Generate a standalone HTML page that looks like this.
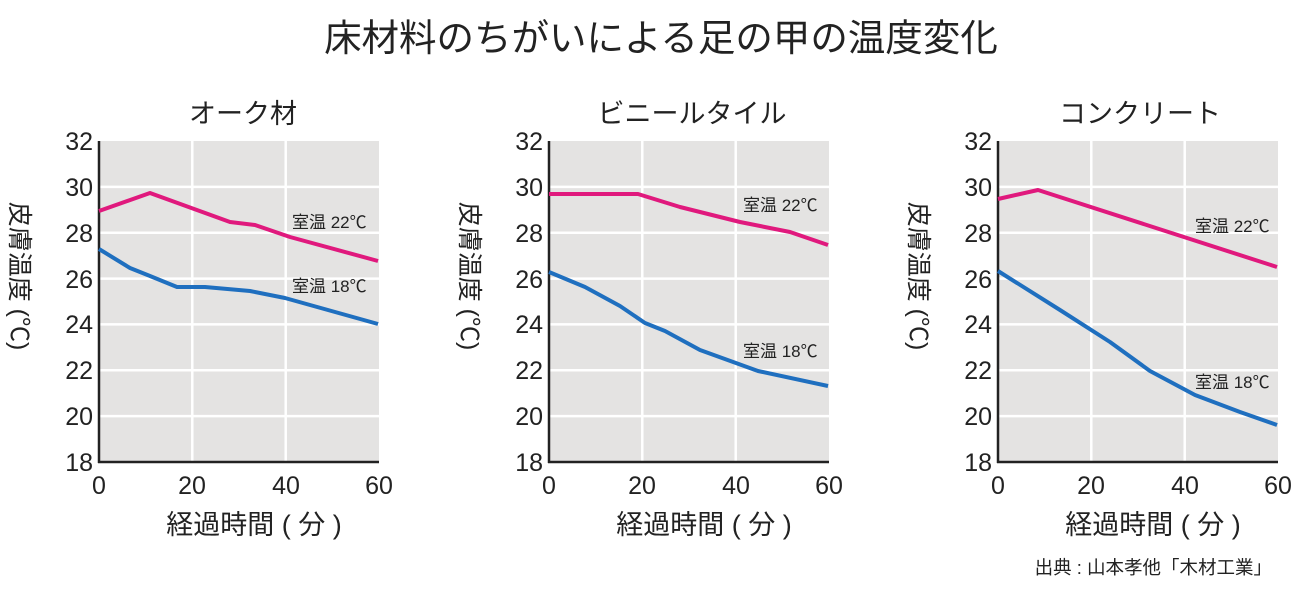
<!DOCTYPE html>
<html><head><meta charset="utf-8"><style>
body{margin:0;background:#fff;}
svg{display:block;font-family:"Liberation Sans","Noto Sans CJK JP",sans-serif;}
.t{font-size:25px;fill:#222;}
.s{font-size:17px;fill:#222;}
</style></head><body>
<svg width="1301" height="593" viewBox="0 0 1301 593">
<text x="661" y="51" font-size="37.5" text-anchor="middle" fill="#222">床材料のちがいによる足の甲の温度変化</text>
<defs>
<g id="frame">
<rect x="0" y="0" width="280" height="321" fill="#e4e3e2"/>
<g stroke="#fff" stroke-width="2.5">
<line x1="0" y1="45.9" x2="280" y2="45.9"/><line x1="0" y1="91.7" x2="280" y2="91.7"/>
<line x1="0" y1="137.6" x2="280" y2="137.6"/><line x1="0" y1="183.4" x2="280" y2="183.4"/>
<line x1="0" y1="229.3" x2="280" y2="229.3"/><line x1="0" y1="275.1" x2="280" y2="275.1"/>
<line x1="93.3" y1="0" x2="93.3" y2="321"/><line x1="186.7" y1="0" x2="186.7" y2="321"/>
</g>
<line x1="0" y1="0" x2="0" y2="322" stroke="#222" stroke-width="2.5"/>
<line x1="-1" y1="321" x2="280" y2="321" stroke="#222" stroke-width="2.5"/>
<g class="t" text-anchor="end">
<text x="-6" y="9">32</text><text x="-6" y="55">30</text><text x="-6" y="101">28</text>
<text x="-6" y="147">26</text><text x="-6" y="192">24</text><text x="-6" y="238">22</text>
<text x="-6" y="284">20</text><text x="-6" y="330">18</text>
</g>
<g class="t" text-anchor="middle">
<text x="0" y="353">0</text><text x="93" y="353">20</text><text x="187" y="353">40</text><text x="280" y="353">60</text>
<text x="155" y="393" font-size="27">経過時間 ( 分 )</text>
</g>
<text transform="translate(-88,135) rotate(90)" text-anchor="middle" font-size="25" fill="#222">皮膚温度 (℃)</text>
</g>
</defs>
<g transform="translate(99,141)"><use href="#frame"/></g>
<g transform="translate(549,141)"><use href="#frame"/></g>
<g transform="translate(998,141)"><use href="#frame"/></g>
<text x="243" y="123" font-size="27" text-anchor="middle" fill="#222">オーク材</text>
<text x="692" y="123" font-size="27" text-anchor="middle" fill="#222">ビニールタイル</text>
<text x="1140" y="123" font-size="27" text-anchor="middle" fill="#222">コンクリート</text>
<g fill="none" stroke-width="4" stroke-linejoin="round">
<polyline stroke="#e0197d" points="99,211 150,193 230,222 255,225 290,237 378,261"/>
<polyline stroke="#1f6fbf" points="99,249 130,268 150,276 177,287 205,287 250,291 285,298 378,324"/>
<polyline stroke="#e0197d" points="549,194 638,194 680,207 740,222 790,232 828,245"/>
<polyline stroke="#1f6fbf" points="549,272 585,287 620,306 645,323 665,331 700,350 758,371 828,386"/>
<polyline stroke="#e0197d" points="998,199 1038,190 1277,267"/>
<polyline stroke="#1f6fbf" points="998,271 1060,310 1110,342 1150,371 1195,395 1240,412 1277,425"/>
</g>
<g class="s">
<text x="292" y="228">室温 22℃</text><text x="292" y="292">室温 18℃</text>
<text x="743" y="211">室温 22℃</text><text x="743" y="357">室温 18℃</text>
<text x="1195" y="232">室温 22℃</text><text x="1195" y="388">室温 18℃</text>
</g>
<text x="1272" y="574" font-size="18.5" text-anchor="end" fill="#222">出典 : 山本孝他「木材工業」</text>
</svg>
</body></html>
